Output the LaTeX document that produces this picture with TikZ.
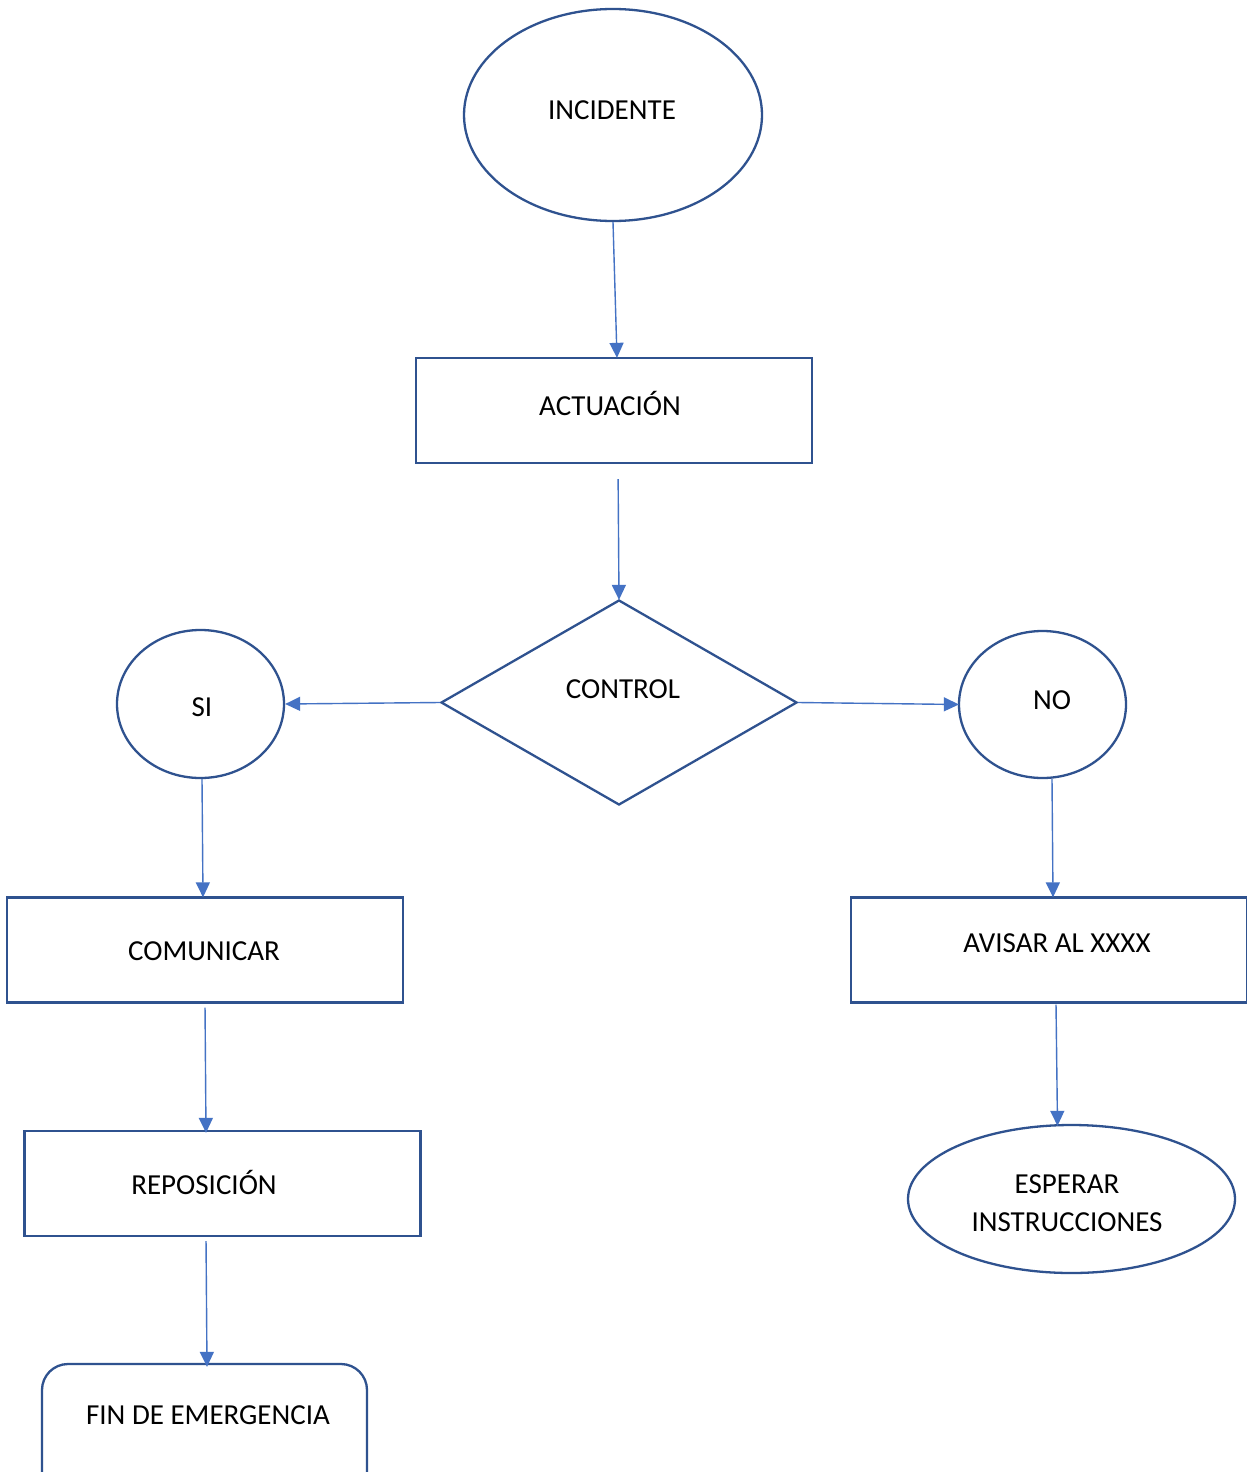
\documentclass[tikz,border=0pt]{standalone}
\usepackage{fontspec}
\setmainfont{Carlito}
\usetikzlibrary{shapes.geometric,arrows.meta}
\definecolor{outl}{HTML}{2F528F}
\definecolor{conn}{HTML}{4472C4}
\tikzset{
  shp/.style={draw=outl,line width=2.3pt,inner sep=0pt,fill=white},
  boxshape/.style={shp,rectangle,minimum width=396pt,minimum height=105pt},
  txt/.style={font=\fontsize{29}{38}\selectfont,inner sep=0pt,align=center,text=black},
  connector/.style={draw=conn,line width=1.4pt,-{Triangle[length=15pt,width=14pt]}}
}
\begin{document}
\begin{tikzpicture}[x=1pt,y=-1pt]
\useasboundingbox[fill=white] (0,0) rectangle (1247,1472);
% shapes
\node[shp,ellipse,minimum width=298pt,minimum height=212pt] (inc) at (613,115) {};
\node[boxshape] (act) at (614,410.5) {};
\node[shp,diamond,minimum width=356pt,minimum height=205pt] (ctl) at (619,702.5) {};
\node[shp,ellipse,minimum width=167pt,minimum height=148pt] (si) at (200.5,704) {};
\node[shp,ellipse,minimum width=167pt,minimum height=147pt] (no) at (1042.5,704.5) {};
\node[boxshape] (com) at (205,950) {};
\node[boxshape] (avi) at (1049,950) {};
\node[boxshape] (rep) at (222.5,1183.5) {};
\node[shp,ellipse,minimum width=327pt,minimum height=148pt] (esp) at (1071.5,1199) {};
\node[shp,rectangle,rounded corners=26pt,minimum width=325pt,minimum height=150pt] (fin) at (204.5,1439) {};
% texts
\node[txt] (tinc) at (612,110) {INCIDENTE};
\node[txt] (tact) at (610,403) {ACTUACIÓN};
\node[txt] (tctl) at (623,689) {CONTROL};
\node[txt] (tsi) at (202,707) {SI};
\node[txt] (tno) at (1052,700) {NO};
\node[txt] (tcom) at (204,951) {COMUNICAR};
\node[txt] (tavi) at (1057,943) {AVISAR AL XXXX};
\node[txt] (trep) at (204,1182) {REPOSICIÓN};
\node[txt] (tesp) at (1067,1203) {ESPERAR\\INSTRUCCIONES};
\node[txt] (tfin) at (208,1415) {FIN DE EMERGENCIA};
% connectors
\draw[connector] (inc.south) -- ([xshift=3pt,yshift=-1pt]act.north);
\draw[connector,shorten <=15pt] ([xshift=4pt]act.south) -- ([yshift=-1pt]ctl.north);
\draw[connector] (ctl.west) -- (si.east);
\draw[connector] (ctl.east) -- ([xshift=1pt]no.west);
\draw[connector] ([xshift=1.5pt]si.south) -- ([xshift=-2pt,yshift=-1pt]com.north);
\draw[connector] ([xshift=9.5pt]no.south) -- ([xshift=4pt,yshift=-1pt]avi.north);
\draw[connector,shorten <=4pt] (com.south) -- ([xshift=1pt,yshift=-3pt]com.south |- rep.north);
\draw[connector,shorten <=1pt] ([xshift=7pt]avi.south) -- ([xshift=-14pt,yshift=-2pt]esp.north);
\draw[connector,shorten <=4pt] ([xshift=-16.5pt]rep.south) -- ([xshift=2.5pt,yshift=-4pt]fin.north);
\end{tikzpicture}
\end{document}
